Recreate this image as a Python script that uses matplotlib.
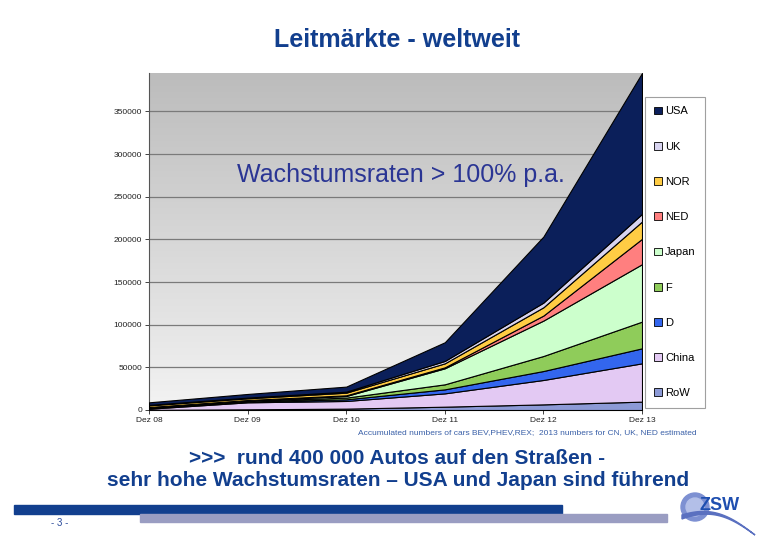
import numpy as np
import matplotlib
matplotlib.use("Agg")
import matplotlib.pyplot as plt
from matplotlib.patches import Patch, Rectangle, Circle, Polygon

plt.rcParams['font.family'] = ['Liberation Sans', 'DejaVu Sans']

years = ["Dez 08", "Dez 09", "Dez 10", "Dez 11", "Dez 12", "Dez 13"]
# cumulative stack tops, converted to per-country values below
row_top   = [200, 800, 1600, 3900, 6600, 9800]
china_top = [1500, 9000, 10600, 19500, 35200, 54700]
d_top     = [2500, 9800, 12500, 24200, 45700, 72300]
f_top     = [3000, 10500, 14500, 30100, 63300, 103600]
japan_top = [3200, 11300, 16400, 48900, 104800, 170900]
ned_top   = [3500, 11700, 17200, 50000, 110700, 200600]
nor_top   = [5500, 13700, 20300, 54700, 120400, 220900]
uk_top    = [6000, 14500, 21500, 57500, 125900, 229900]
usa_top   = [9000, 18800, 27400, 79400, 203300, 395000]

labels = ["RoW", "China", "D", "F", "Japan", "NED", "NOR", "UK", "USA"]
colors = ["#8c9ad6", "#e3c9f3", "#3366ee", "#8fcc5a", "#ccffcc",
          "#ff7f7f", "#ffcc44", "#d8d4f0", "#0b1f5a"]

tops = np.array([row_top, china_top, d_top, f_top, japan_top,
                 ned_top, nor_top, uk_top, usa_top], dtype=float)
layers = np.diff(np.vstack([np.zeros(len(years)), tops]), axis=0)

fig = plt.figure(figsize=(7.76, 5.44), dpi=100)
ax = fig.add_axes([149/776, 1-410/544, (642-149)/776, (410-73)/544])

x = np.arange(len(years))
# gradient background
grad = np.linspace(0, 1, 256).reshape(-1, 1)
ax.imshow(grad, extent=[0, 1, 0, 1], transform=ax.transAxes, aspect='auto',
          cmap=matplotlib.colors.LinearSegmentedColormap.from_list("bg", ["#f3f3f3", "#bcbcbc"]),
          origin='lower', zorder=0)

ax.stackplot(x, layers, colors=colors, edgecolor="black", linewidth=0.8, zorder=3)

ax.set_xlim(0, len(years)-1)
ax.set_ylim(0, 395000)
ax.set_yticks(range(0, 350001, 50000))
ax.set_yticklabels([str(v) for v in range(0, 350001, 50000)], fontsize=6)
ax.set_xticks(x)
ax.set_xticklabels(years, fontsize=6)
ax.grid(axis='y', color='#7a7a7a', linewidth=0.9, zorder=1)
ax.set_axisbelow(True)
for s in ['top', 'right']:
    ax.spines[s].set_visible(False)
ax.spines['left'].set_color('#555555')
ax.spines['bottom'].set_color('#333333')
ax.tick_params(axis='both', length=3, width=0.6, pad=2, colors='#222222')

ax.text(0.512, 0.697, "Wachstumsraten > 100% p.a.", transform=ax.transAxes,
        ha='center', va='center', fontsize=18, color='#2a3594', zorder=5)

handles = [Patch(facecolor=c, edgecolor='black', linewidth=0.6, label=l)
           for l, c in zip(labels, colors)][::-1]
leg = fig.legend(handles=handles, loc='upper left',
                 bbox_to_anchor=(645/776, 1-97/544), borderaxespad=0,
                 fontsize=8, labelspacing=2.27, handlelength=0.7, handleheight=0.7,
                 handletextpad=0.25, borderpad=0.85, fancybox=False, framealpha=1)
leg.get_frame().set_edgecolor('#a0a0a0')
leg.get_frame().set_linewidth(0.8)

fig.text(397/776, 1-40/544, "Leitmärkte - weltweit", ha='center', va='center',
         fontsize=18, fontweight='bold', color='#123f8e')
fig.text(697/776, 1-433/544,
         "Accumulated numbers of cars BEV,PHEV,REX;  2013 numbers for CN, UK, NED estimated",
         ha='right', va='center', fontsize=6, color='#3a60a8')
fig.text(397/776, 1-458/544, ">>>  rund 400 000 Autos auf den Straßen -",
         ha='center', va='center', fontsize=15, fontweight='bold', color='#123f8e')
fig.text(398/776, 1-481/544, "sehr hohe Wachstumsraten – USA und Japan sind führend",
         ha='center', va='center', fontsize=15, fontweight='bold', color='#123f8e')

# footer bars
fig.patches.append(Rectangle((14/776, 1-514/544), (562-14)/776, 9/544,
                             transform=fig.transFigure, color='#123f8e', zorder=1))
fig.patches.append(Rectangle((140/776, 1-522/544), (667-140)/776, 8/544,
                             transform=fig.transFigure, color='#9a9dc2', zorder=1))
fig.text(60/776, 1-523/544, "- 3 -", ha='center', va='center', fontsize=7, color='#2a4a9a')

# logo, drawn in pixel coordinates
lax = fig.add_axes([670/776, 0, 106/776, 54/544])
lax.set_xlim(670, 776)
lax.set_ylim(544, 490)
lax.axis('off')
lax.add_patch(Circle((695, 507), 14, color='#7d90d2'))
lax.add_patch(Circle((695, 507), 9, color='#b3bfe8'))
t = np.linspace(0, 1, 40)
upper = np.column_stack([682 + 73*t, 515 + 20*t**1.6 - 8*np.sin(np.pi*t)])
lower = np.column_stack([682 + 73*t, 515 + 20*t**1.6 - 8*np.sin(np.pi*t) + 4*(1-t)])
lax.add_patch(Polygon(np.vstack([upper, lower[::-1]]), closed=True, color='#5a70c0'))
lax.text(700, 505, "ZSW", fontsize=13, fontweight='bold', color='#1f4fb0',
         ha='left', va='center')

fig.savefig("out.png", dpi=100)
